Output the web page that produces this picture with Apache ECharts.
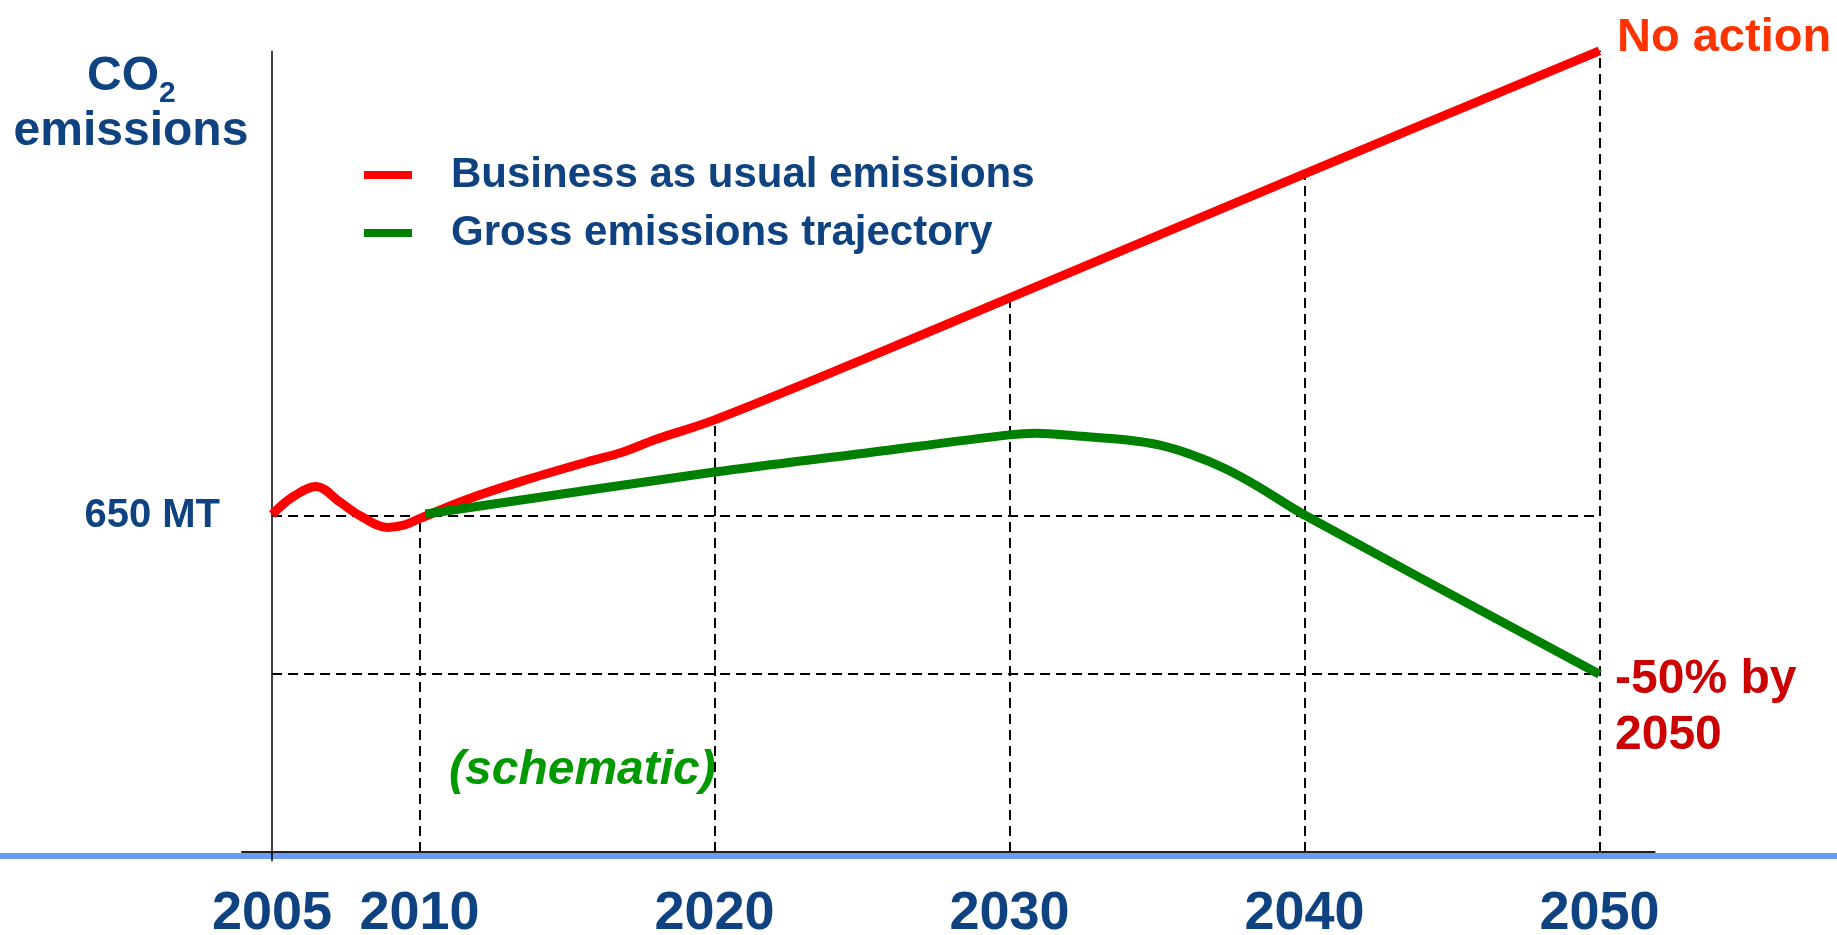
<!DOCTYPE html>
<html><head><meta charset="utf-8">
<script src="https://cdn.jsdelivr.net/npm/echarts@6/dist/echarts.min.js"></script>
<style>html,body{margin:0;padding:0;background:#fff}#c{width:1837px;height:935px}</style>
</head><body><div id="c"></div>
<script>
// ---- data (schematic values; 650 MT reference level) ----
const tickYears = [2005, 2010, 2020, 2030, 2040, 2050];
const yTickValues = [650];
const seriesNames = ['Business as usual emissions', 'Gross emissions trajectory'];
const redYears  = [2005, 2005.7, 2006.5, 2007.3, 2008.0, 2008.9, 2009.5, 2010, 2011.6, 2013.5, 2015.7, 2016.9, 2018, 2020, 2025, 2030, 2040, 2050];
const redValues = [653, 687, 707, 677, 650, 628, 633, 645, 682, 718, 755, 774, 798, 836, 952, 1072, 1312, 1550];
const greenYears  = [2010.2, 2020, 2025, 2030, 2030.9, 2032.3, 2034, 2035.1, 2036.2, 2037.3, 2038.4, 2040, 2050];
const greenValues = [654, 735, 771, 807, 810, 805, 797, 787, 768, 742, 708, 652, 344];

const FONT = "'Liberation Sans', Arial, sans-serif";
const NAVY = '#0e4280';

const redData = redYears.map((y, i) => [y, redValues[i]]);
const greenData = greenYears.map((y, i) => [y, greenValues[i]]);
const redAt = yr => redValues[redYears.indexOf(yr)];
const firstYear = tickYears[0], lastYear = tickYears[tickYears.length - 1];
const greenEnd = greenValues[greenValues.length - 1];

const yMin = -18, yMax = 1550;
const dash = { color: '#000', width: 2, type: [10, 6] };
const guideLines = [];
tickYears.slice(1).forEach(yr => {
  guideLines.push([{ coord: [yr, 0] }, { coord: [yr, redAt(yr)] }]);
});
guideLines.push([{ coord: [firstYear, yTickValues[0]] }, { coord: [lastYear, yTickValues[0]] }]);
guideLines.push([{ coord: [firstYear, greenEnd] }, { coord: [lastYear, greenEnd] }]);

const chart = echarts.init(document.getElementById('c'));
chart.setOption({
  animation: false,
  backgroundColor: '#fff',
  grid: { left: 242, right: 182.4, top: 50.8, bottom: 73.7, containLabel: false, outerBoundsMode: 'none' },
  xAxis: {
    type: 'value', min: 2003.98, max: 2051.87,
    axisLine: { onZero: true, lineStyle: { color: '#222', width: 2 } },
    axisTick: { show: false },
    splitLine: { show: false },
    axisLabel: {
      customValues: tickYears, margin: 26,
      formatter: v => String(Math.round(v)),
      fontFamily: FONT, fontSize: 54, fontWeight: 'bold', color: NAVY
    }
  },
  yAxis: {
    type: 'value', min: yMin, max: yMax,
    axisLine: { show: false }, axisTick: { show: false }, splitLine: { show: false },
    axisLabel: {
      customValues: yTickValues, margin: 22,
      formatter: v => v + ' MT',
      fontFamily: FONT, fontSize: 40, fontWeight: 'bold', color: NAVY
    }
  },
  legend: {
    data: seriesNames, orient: 'vertical', left: 359, top: 149,
    icon: 'rect', itemWidth: 48, itemHeight: 8, itemGap: 16,
    textStyle: { fontFamily: FONT, fontSize: 42, lineHeight: 42, fontWeight: 'bold', color: NAVY, padding: [0, 0, 0, 34] }
  },
  graphic: [
    { type: 'rect', z: -10, silent: true, shape: { x: 0, y: 853, width: 1837, height: 6 }, style: { fill: '#6a9cf7' } },
    { type: 'text', left: 87, top: 53, silent: true, style: { text: 'CO', font: "bold 48px " + FONT, fill: NAVY } },
    { type: 'text', left: 159, top: 79, silent: true, style: { text: '2', font: "bold 30px " + FONT, fill: NAVY } },
    { type: 'text', x: 131, y: 132, silent: true, style: { text: 'emissions', font: "bold 48px " + FONT, fill: NAVY, align: 'center', verticalAlign: 'middle' } },
    { type: 'text', x: 1617, y: 38, silent: true, style: { text: 'No action', font: "bold 47px " + FONT, fill: '#ff3300', verticalAlign: 'middle' } },
    { type: 'text', x: 1615, y: 652, silent: true, style: { text: '-50% by\n2050', font: "bold 48px " + FONT, lineHeight: 56, fill: '#cc0000', verticalAlign: 'top' } },
    { type: 'text', x: 449, y: 771, silent: true, style: { text: '(schematic)', font: "italic bold 48px " + FONT, fill: '#009900', verticalAlign: 'middle' } }
  ],
  series: [
    {
      name: 'guides', type: 'line', data: [], z: 1, silent: true,
      markLine: {
        silent: true, symbol: 'none', z: 1, label: { show: false },
        lineStyle: dash,
        data: guideLines.concat([
          [{ coord: [firstYear, yMin], lineStyle: { type: 'solid', width: 1.5, color: '#000' } },
           { coord: [firstYear, yMax] }]
        ])
      }
    },
    {
      name: seriesNames[0], type: 'line', data: redData, smooth: 0.35, showSymbol: false, clip: false, z: 3,
      lineStyle: { color: '#ff0000', width: 9 }, itemStyle: { color: '#ff0000' }
    },
    {
      name: seriesNames[1], type: 'line', data: greenData, smooth: 0.35, showSymbol: false, clip: false, z: 4,
      lineStyle: { color: '#008000', width: 9 }, itemStyle: { color: '#008000' }
    }
  ]
});
</script></body></html>
